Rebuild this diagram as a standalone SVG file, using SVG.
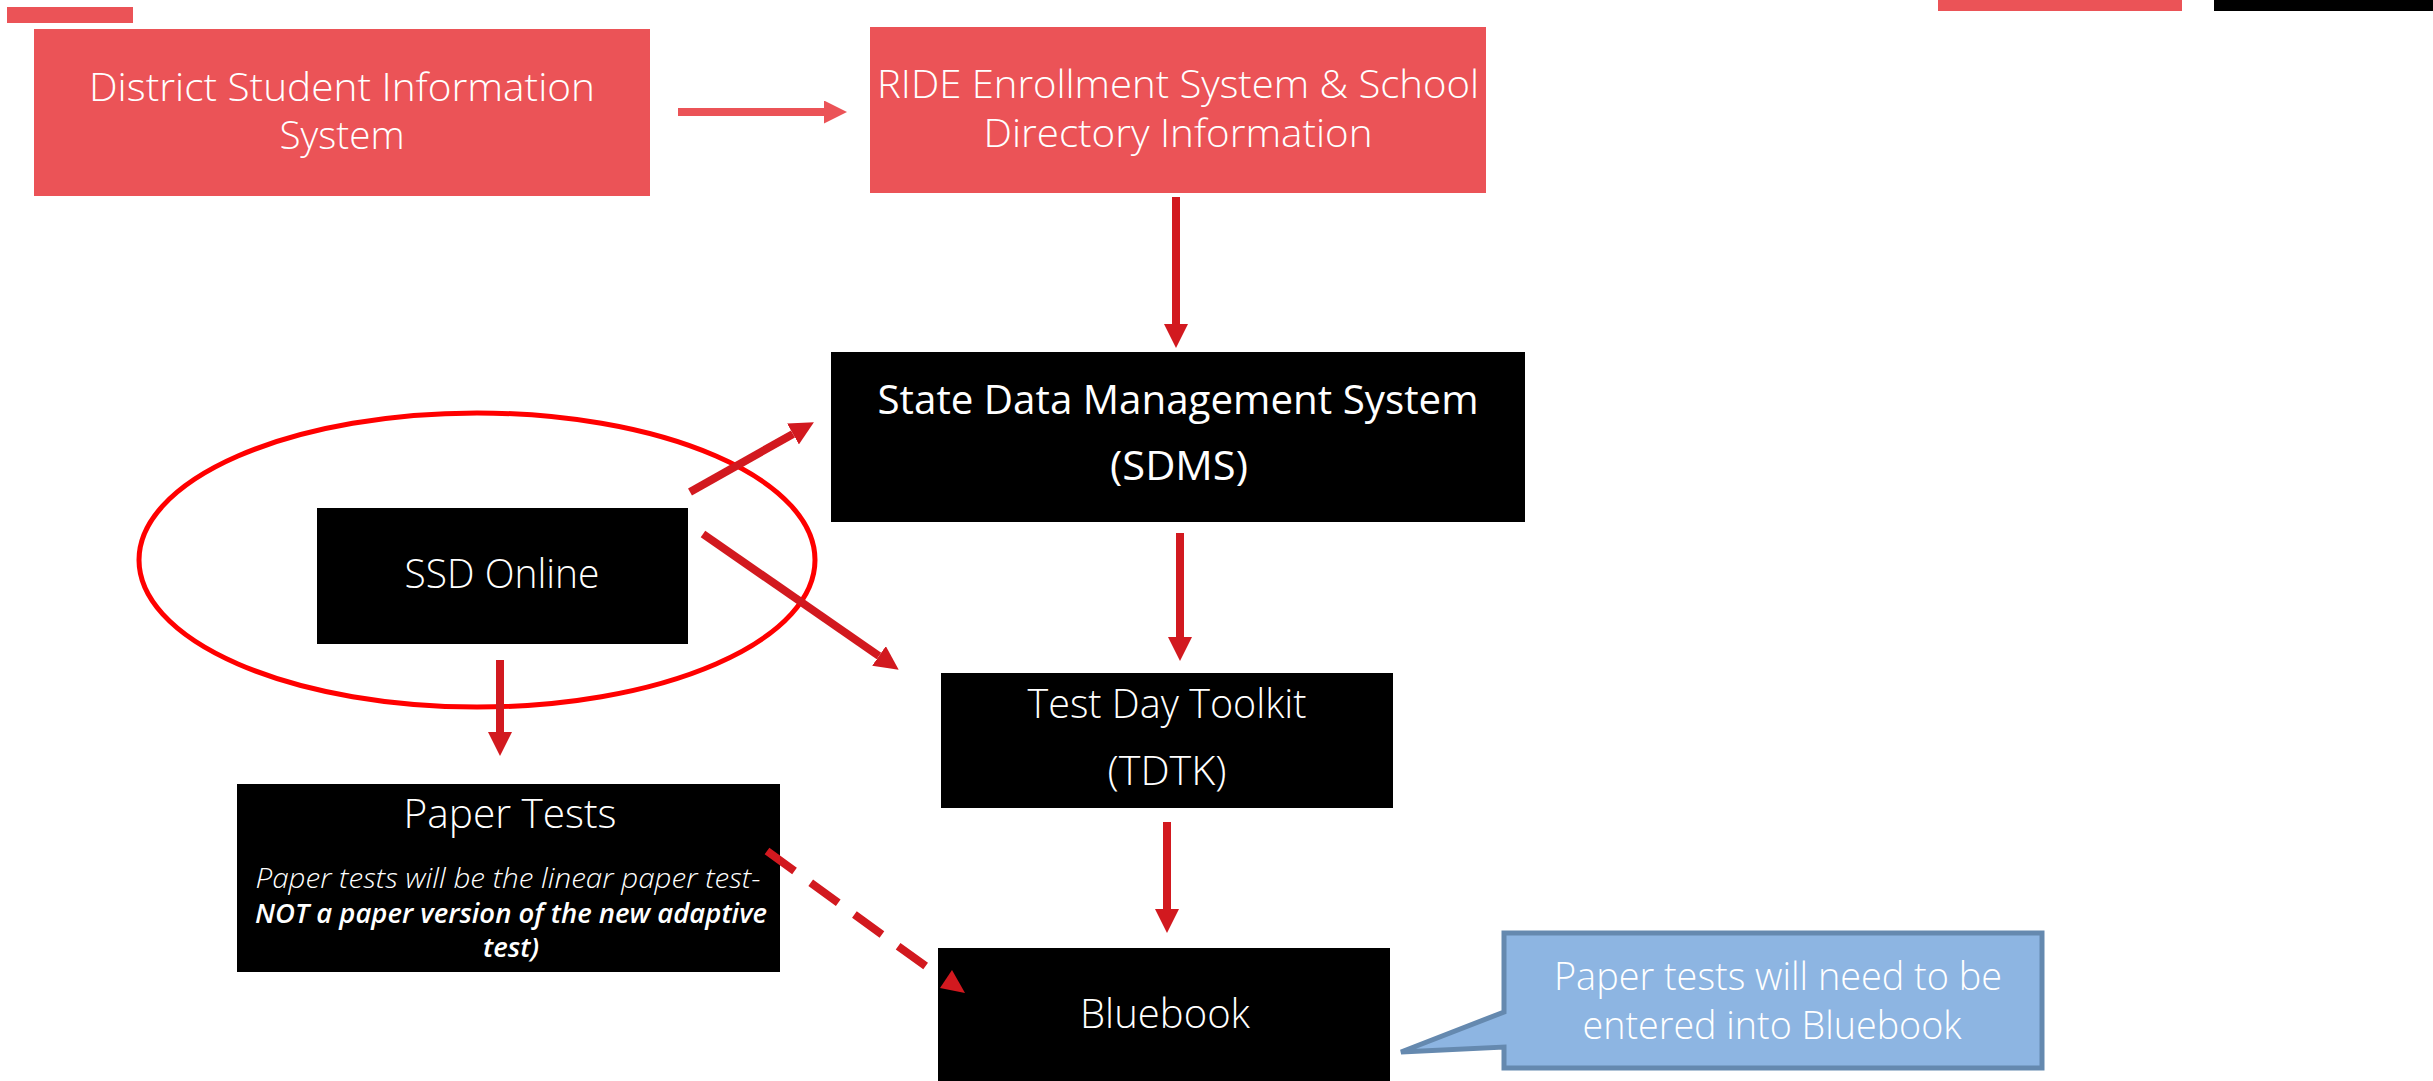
<svg xmlns="http://www.w3.org/2000/svg" width="2433" height="1081" viewBox="0 0 2433 1081">
<defs>
<style>
.coral{fill:#EB5357}
.blk{fill:#000000}
.t{font-family:"Open Sans","Noto Sans","Liberation Sans",sans-serif;fill:#FFFFFF;font-size:41px;font-weight:300;text-anchor:middle}
.tr{font-size:39px}
.ti{font-family:"Open Sans","Noto Sans","Liberation Sans",sans-serif;fill:#FFFFFF;font-size:27px;font-style:italic;text-anchor:middle}
.dk{stroke:#D2191F;stroke-width:8;fill:none}
</style>
<marker id="hd" viewBox="0 0 24 24" refX="0" refY="12" markerWidth="24" markerHeight="24" markerUnits="userSpaceOnUse" orient="auto">
<path d="M0,0 L24,12 L0,24 Z" fill="#D2191F"/>
</marker>
<marker id="hc" viewBox="0 0 23 23" refX="0" refY="11.5" markerWidth="23" markerHeight="23" markerUnits="userSpaceOnUse" orient="auto">
<path d="M0,0 L23,11.5 L0,23 Z" fill="#EB5357"/>
</marker>
</defs>
<rect width="2433" height="1081" fill="#FFFFFF"/>
<g id="decor">
<rect x="7" y="7" width="126" height="16" class="coral"/>
<rect x="1938" y="0" width="244" height="11" class="coral"/>
<rect x="2214" y="0" width="219" height="11" class="blk"/>
</g>
<g id="district">
<rect x="34" y="29" width="616" height="167" class="coral"/>
<text class="t tr" x="342" y="101" textLength="506" lengthAdjust="spacingAndGlyphs">District Student Information</text>
<text class="t tr" x="342" y="149" textLength="125" lengthAdjust="spacingAndGlyphs">System</text>
</g>
<g id="ride">
<rect x="870" y="27" width="616" height="166" class="coral"/>
<text class="t tr" x="1178" y="98" textLength="602" lengthAdjust="spacingAndGlyphs">RIDE Enrollment System &amp; School</text>
<text class="t tr" x="1178" y="147" textLength="389" lengthAdjust="spacingAndGlyphs">Directory Information</text>
</g>
<g id="sdms">
<rect x="831" y="352" width="694" height="170" class="blk"/>
<text class="t" x="1178" y="414" textLength="601" lengthAdjust="spacingAndGlyphs" style="font-weight:400">State Data Management System</text>
<text class="t" x="1179" y="480" textLength="138" lengthAdjust="spacingAndGlyphs" style="font-weight:400">(SDMS)</text>
</g>
<g id="ssd">
<rect x="317" y="508" width="371" height="136" class="blk"/>
<text class="t" x="502" y="588" textLength="195" lengthAdjust="spacingAndGlyphs">SSD Online</text>
</g>
<g id="tdtk">
<rect x="941" y="673" width="452" height="135" class="blk"/>
<text class="t" x="1167" y="718" textLength="279" lengthAdjust="spacingAndGlyphs">Test Day Toolkit</text>
<text class="t" x="1167" y="785" textLength="119" lengthAdjust="spacingAndGlyphs">(TDTK)</text>
</g>
<g id="paper">
<rect x="237" y="784" width="543" height="188" class="blk"/>
<text class="t" x="510" y="828" textLength="213" lengthAdjust="spacingAndGlyphs">Paper Tests</text>
<text class="ti" x="508" y="888" textLength="505" lengthAdjust="spacingAndGlyphs" style="font-weight:300">Paper tests will be the linear paper test-</text>
<text class="ti" x="511" y="923" textLength="512" lengthAdjust="spacingAndGlyphs" style="font-weight:600">NOT a paper version of the new adaptive</text>
<text class="ti" x="511" y="957" textLength="56" lengthAdjust="spacingAndGlyphs" style="font-weight:600">test)</text>
</g>
<g id="bluebook">
<rect x="938" y="948" width="452" height="140" class="blk"/>
<text class="t" x="1165" y="1028" textLength="170" lengthAdjust="spacingAndGlyphs">Bluebook</text>
</g>
<g id="callout">
<path d="M1504,933 H2042 V1068 H1504 V1047 L1401,1052 L1504,1012 Z" fill="#8DB5E2" stroke="#6589AF" stroke-width="5" stroke-linejoin="miter"/>
<text class="t" x="1778" y="990" textLength="448" lengthAdjust="spacingAndGlyphs" style="font-size:39px">Paper tests will need to be</text>
<text class="t" x="1772" y="1039" textLength="379" lengthAdjust="spacingAndGlyphs" style="font-size:39px">entered into Bluebook</text>
</g>
<g id="highlight">
<ellipse cx="477" cy="560" rx="338" ry="147" fill="none" stroke="#FF0000" stroke-width="5"/>
</g>
<g id="connectors">
<line x1="678" y1="112" x2="824" y2="112" stroke="#EB5357" stroke-width="8" marker-end="url(#hc)"/>
<line x1="1176" y1="197" x2="1176" y2="324" class="dk" marker-end="url(#hd)"/>
<line x1="1180" y1="533" x2="1180" y2="637" class="dk" marker-end="url(#hd)"/>
<line x1="1167" y1="822" x2="1167" y2="909" class="dk" marker-end="url(#hd)"/>
<line x1="500" y1="660" x2="500" y2="732" class="dk" marker-end="url(#hd)"/>
<line x1="690" y1="492" x2="793" y2="434" class="dk" marker-end="url(#hd)"/>
<line x1="703" y1="534" x2="879" y2="656" class="dk" marker-end="url(#hd)"/>
<line x1="767" y1="851" x2="931" y2="970" class="dk" stroke-dasharray="34 20"/>
<polygon points="952,970 940,988 965,993" fill="#D2191F"/>
</g>
</svg>
